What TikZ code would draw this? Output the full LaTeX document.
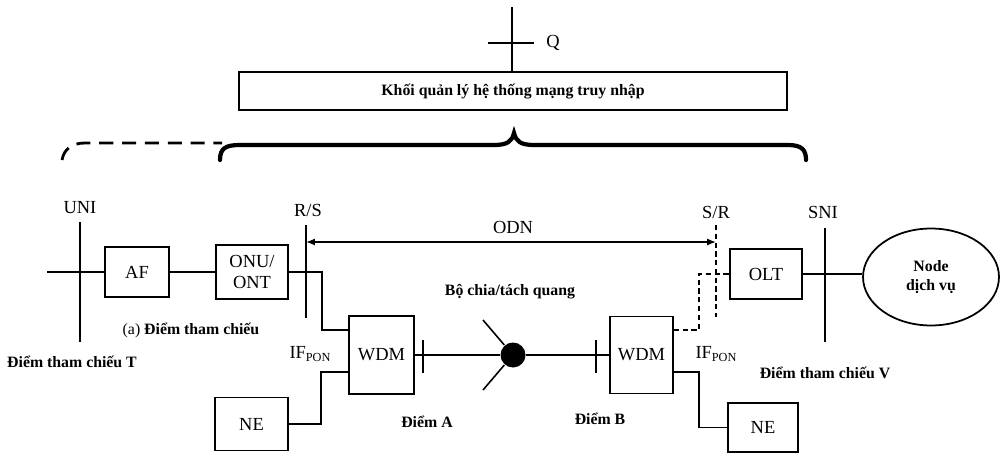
\documentclass[tikz,border=0pt]{standalone}
\usepackage{fontspec}
\setmainfont{Liberation Serif}
\usetikzlibrary{arrows.meta,shapes.geometric}
\begin{document}
\begin{tikzpicture}[x=0.02cm,y=-0.02cm,
  every path/.style={line width=0.9pt},
  blk/.style={draw,line width=1pt,inner sep=0pt,font=\fontsize{10.5}{12}\selectfont,align=center},
  lbl/.style={inner sep=0pt,font=\fontsize{10.5}{12}\selectfont},
  blbl/.style={inner sep=0pt,font=\fontsize{9}{10}\selectfont\bfseries},
  odn/.style={{Latex[length=5pt,width=4pt]}-{Latex[length=5pt,width=4pt]}}]
\useasboundingbox (0,0) rectangle (1000,453);

% management block and Q
\node[draw,line width=1pt,minimum width=10.96cm,minimum height=0.76cm,inner sep=0pt,
      font=\fontsize{9}{11}\selectfont\bfseries] (mgmt) at (513,91) {Khối quản lý hệ thống mạng truy nhập};
\coordinate (qtop) at (512,7);
\draw (qtop) -- (qtop |- mgmt.north);
\coordinate (qa) at (488,43);
\coordinate (qb) at (534,43);
\draw (qa) -- (qb);
\node[lbl] (Q) at (553,43) {Q};

% brace
\draw[line width=1.6pt,dash pattern=on 8pt off 5pt] (62,160) .. controls (64,149) and (72,143) .. (85,143) -- (222,143);
\draw[line width=2.4pt,line cap=round] (220,160) .. controls (220,148) and (226,145) .. (240,145) -- (494,145)
   .. controls (508,145) and (512,141) .. (514,133) .. controls (516,141) and (520,145) .. (534,145)
   -- (788,145) .. controls (802,145) and (806,150) .. (806,160);

% blocks
\node[blk,minimum width=1.28cm,minimum height=1.0cm] (AF) at (137,272) {AF};
\node[blk,minimum width=1.44cm,minimum height=1.08cm] (ONU) at (252,272) {ONU/\\ONT};
\node[blk,minimum width=1.3cm,minimum height=1.56cm] (W1) at (381.5,355) {WDM};
\node[blk,minimum width=1.46cm,minimum height=1.06cm] (NE1) at (251.5,424) {NE};
\node[blk,minimum width=1.26cm,minimum height=1.54cm] (W2) at (641.5,355) {WDM};
\node[blk,minimum width=1.4cm,minimum height=0.98cm] (NE2) at (763,427.5) {NE};
\node[blk,minimum width=1.44cm,minimum height=1.0cm] (OLT) at (766,274) {OLT};
\node[draw,ellipse,line width=1pt,minimum width=2.72cm,minimum height=1.94cm,inner sep=0pt,align=center,
      font=\fontsize{9}{11}\selectfont\bfseries] (SN) at (931,277) {Node\\dịch vụ};

% splitter
\node[circle,fill=black,minimum size=0.5cm,inner sep=0pt] (SP) at (513,355) {};
\coordinate (spu) at (483,320);
\coordinate (spd) at (483,390);
\draw (SP.131) -- (spu);
\draw (SP.229) -- (spd);

% interface lines
\coordinate (uniT) at (80,222);  \coordinate (uniB) at (80,342);
\coordinate (rsT) at (306,225);  \coordinate (rsB) at (306,318);
\coordinate (srT) at (716,225);  \coordinate (srB) at (716,317);
\coordinate (sniT) at (825,228); \coordinate (sniB) at (825,342);
\draw (uniT) -- (uniB);
\draw (rsT) -- (rsB);
\draw[densely dashed] (srT) -- (srB);
\draw (sniT) -- (sniB);

% ODN arrow
\coordinate (odnL) at (306,242);
\coordinate (odnR) at (716,242);
\draw[odn] (odnL) -- (odnR);

% connectors
\coordinate (in) at (47,272);
\draw (in) -- (AF.west);
\draw (AF.east) -- (ONU.west);
\draw (ONU.east) -- (322,272) |- ([yshift=0.5cm]W1.west);
\draw (NE1.east) -| (321,372) -- ([yshift=-0.34cm]W1.west);
\draw (W1.east) -- (SP.west);
\draw (SP.east) -- (W2.west);
\draw[densely dashed] ([yshift=0.5cm]W2.east) -| (699,274) -- (OLT.west);
\draw ([yshift=-0.34cm]W2.east) -| (699,427.5) -- (NE2.west);
\draw (OLT.east) -- (OLT.east -| SN.west);

% ticks
\coordinate (tAa) at (423,340); \coordinate (tAb) at (423,373);
\coordinate (tBa) at (596,340); \coordinate (tBb) at (596,373);
\draw (tAa) -- (tAb);
\draw (tBa) -- (tBb);

% labels
\node[lbl] (lUNI) at (80,208) {UNI};
\node[lbl] (lRS) at (308,210) {R/S};
\node[lbl] (lSR) at (716,212) {S/R};
\node[lbl] (lSNI) at (823,212) {SNI};
\node[lbl] (lODN) at (513,227) {ODN};
\node[lbl] (if1) at (310,354) {IF\raisebox{-0.45ex}{\fontsize{7}{8}\selectfont PON}};
\node[lbl] (if2) at (716,354) {IF\raisebox{-0.45ex}{\fontsize{7}{8}\selectfont PON}};
\node[blbl] (lsplit) at (510,292) {Bộ chia/tách quang};
\node[blbl] (la) at (191,330) {\mdseries(a) \bfseries Điểm tham chiếu};
\node[blbl] (lT) at (72,362) {Điểm tham chiếu T};
\node[blbl] (lA) at (427,422) {Điểm A};
\node[blbl] (lB) at (600,419) {Điểm B};
\node[blbl] (lV) at (825,373) {Điểm tham chiếu V};
\end{tikzpicture}
\end{document}
